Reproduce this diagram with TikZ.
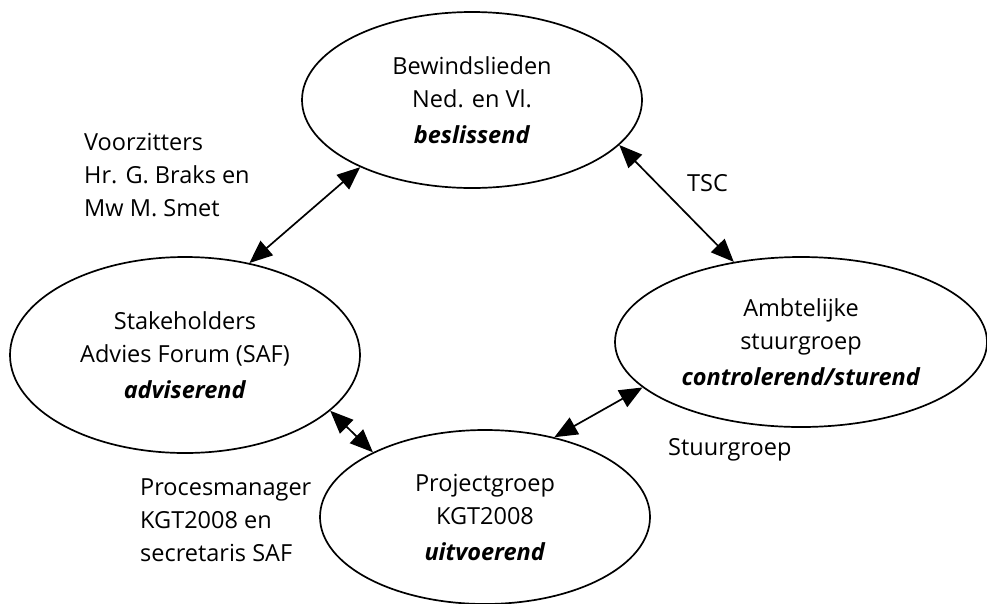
\documentclass[tikz,border=0pt]{standalone}
\usepackage{fontspec}
\setmainfont{Open Sans}
\usetikzlibrary{shapes.geometric,arrows.meta}
\begin{document}
\begin{tikzpicture}[x=1pt,y=-1pt,
  every node/.style={font=\fontsize{23.5}{33}\selectfont},
  blob/.style={ellipse,draw,line width=1.7pt,inner sep=0pt,align=center},
  lbl/.style={anchor=west,inner sep=0pt,align=left},
  link/.style={{Triangle[length=23pt,width=19pt]}-{Triangle[length=23pt,width=19pt]},line width=1.7pt}]
\useasboundingbox (0,0) rectangle (987,603);
\node[blob,minimum width=340pt,minimum height=176pt] (bew) at (472,100)
  {Bewindslieden\\Ned. en Vl.\\[3pt]\textbf{\textit{beslissend}}};
\node[blob,minimum width=350pt,minimum height=196pt] (saf) at (185,355)
  {Stakeholders\\Advies Forum (SAF)\\[3pt]\textbf{\textit{adviserend}}};
\node[blob,minimum width=372pt,minimum height=170pt] (amb) at (801,342)
  {Ambtelijke\\stuurgroep\\[3pt]\textbf{\textit{controlerend/sturend}}};
\node[blob,minimum width=330pt,minimum height=174pt] (pro) at (485,517)
  {Projectgroep\\KGT2008\\[3pt]\textbf{\textit{uitvoerend}}};
\draw[link] (bew.211.7) -- (saf.55.8);
\draw[link] (bew.343.6) -- (amb.130.4);
\draw[link] (saf.-21.2) -- (pro.150.5);
\draw[link] (pro.49.4) -- (amb.196.9);
\node[lbl] (voor) at (84,175) {Voorzitters\\Hr. G. Braks en\\Mw M. Smet};
\node[lbl] (tsc) at (687,183) {TSC};
\node[lbl] (stuur) at (668,450) {Stuurgroep};
\node[lbl] (proc) at (140,520) {Procesmanager\\KGT2008 en\\secretaris SAF};
\end{tikzpicture}
\end{document}
